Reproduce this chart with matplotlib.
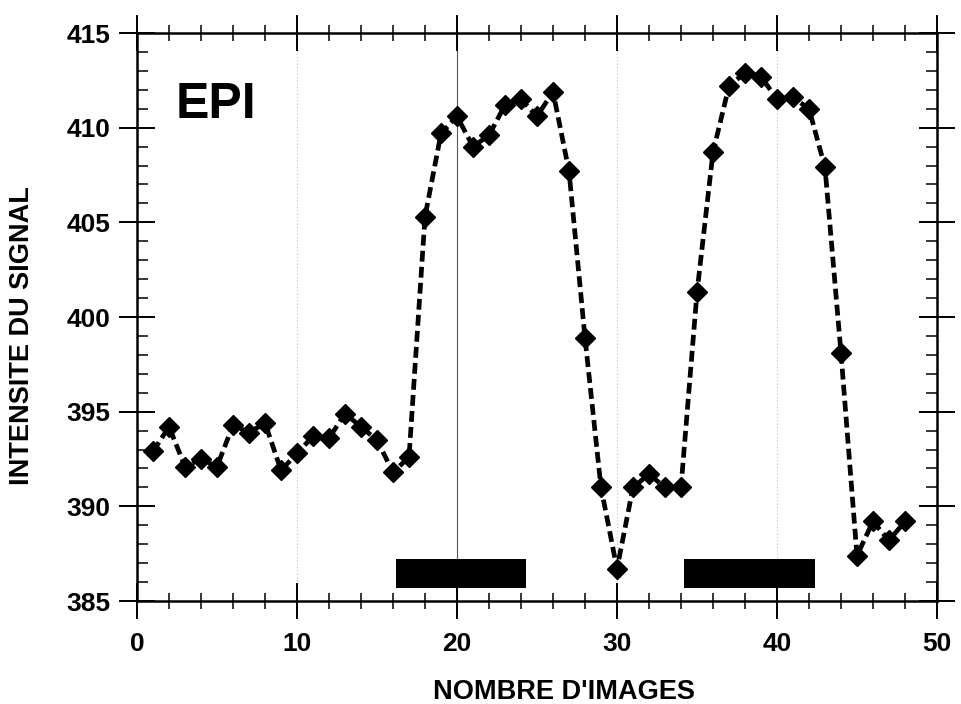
import matplotlib.pyplot as plt
from matplotlib.ticker import MultipleLocator

plt.rcParams["font.family"] = ["Liberation Sans", "DejaVu Sans"]
plt.rcParams["font.weight"] = "bold"
plt.rcParams["axes.labelweight"] = "bold"

# image number and signal intensity
images = list(range(1, 49))
signal = [
    392.9, 394.2, 392.1, 392.5, 392.1, 394.3, 393.9, 394.4, 391.9, 392.8,
    393.7, 393.6, 394.9, 394.2, 393.5, 391.8, 392.6, 405.3, 409.7, 410.6,
    409.0, 409.6, 411.2, 411.5, 410.6, 411.9, 407.7, 398.9, 391.0, 386.7,
    391.0, 391.7, 391.0, 391.0, 401.3, 408.7, 412.2, 412.9, 412.7, 411.5,
    411.6, 411.0, 407.9, 398.1, 387.4, 389.2, 388.2, 389.2,
]

# stimulation blocks (start, end) in image numbers
blocks = [(16.2, 24.3), (34.2, 42.4)]
block_low, block_high = 385.7, 387.2

grid_x = [10, 20, 30, 40]

fig = plt.figure(figsize=(9.61, 7.04), dpi=100)
ax = fig.add_axes([0.1426, 0.1463, 0.8324, 0.8068])

for gx in grid_x:
    if gx == 20:
        ax.axvline(gx, color="0.35", linewidth=0.8, zorder=1)
    else:
        ax.axvline(gx, color="0.75", linewidth=0.8, linestyle=(0, (1, 2)), zorder=1)

for start, end in blocks:
    ax.fill_between([start, end], block_low, block_high, color="black",
                    linewidth=0, zorder=3)

ax.plot(images, signal, color="black", linewidth=3.4, dashes=(2.3, 1.1),
        marker="D", markersize=10, zorder=4)

ax.text(2.4, 410.5, "EPI", fontsize=36, fontweight="bold")

ax.set_xlim(0, 50)
ax.set_ylim(385, 415)
ax.xaxis.set_major_locator(MultipleLocator(10))
ax.xaxis.set_minor_locator(MultipleLocator(2))
ax.yaxis.set_major_locator(MultipleLocator(5))
ax.yaxis.set_minor_locator(MultipleLocator(1))

ax.tick_params(axis="both", which="major", direction="inout", length=26,
               width=1.4, top=True, right=True, labelsize=19, pad=6)
ax.tick_params(axis="x", which="major", pad=9)
ax.tick_params(axis="both", which="minor", direction="inout", length=12,
               width=1.1, top=True, right=True)
ax.tick_params(axis="y", which="minor", direction="in", length=8)
for side in ax.spines.values():
    side.set_linewidth(1.8)

ax.set_xlabel("NOMBRE D'IMAGES", fontsize=19.5)
ax.set_ylabel("INTENSITE DU SIGNAL", fontsize=19.5)
ax.xaxis.set_label_coords(0.534, -0.138)
ax.yaxis.set_label_coords(-0.1275, 0.468)

fig.savefig("out.png", dpi=100)
